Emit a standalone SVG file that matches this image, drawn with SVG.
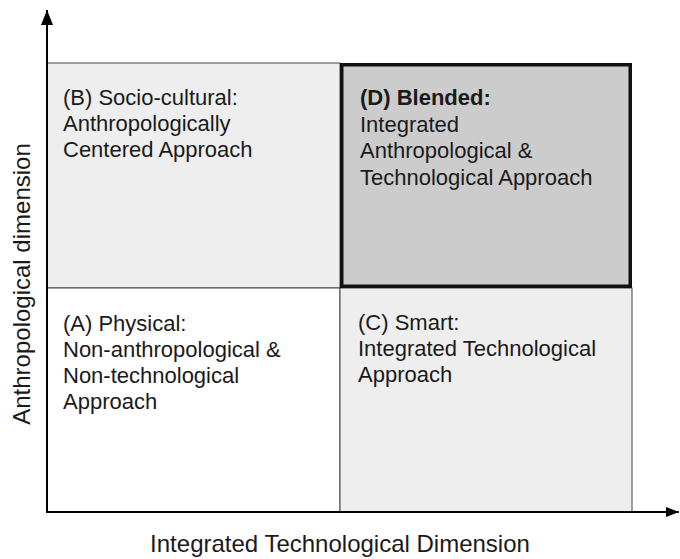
<svg xmlns="http://www.w3.org/2000/svg" width="680" height="559" viewBox="0 0 680 559">
  <style>
    text { font-family: "Liberation Sans", Arial, sans-serif; font-size: 22px; fill: #1a1a1a; }
    .cell { stroke: #444444; stroke-width: 1; }
    .axis { stroke: #000000; stroke-width: 2; fill: none; }
    .axlabel { font-size: 24px; }
    .bold { font-weight: bold; }
  </style>
  <defs>
    <marker id="arrowV" markerUnits="userSpaceOnUse" markerWidth="16" markerHeight="14" refX="15" refY="6" orient="auto">
      <path d="M0,0 L15,6 L0,12 Z" fill="#000"/>
    </marker>
    <marker id="arrowH" markerUnits="userSpaceOnUse" markerWidth="14" markerHeight="12" refX="13" refY="5" orient="auto">
      <path d="M0,0 L13,5 L0,10 Z" fill="#000"/>
    </marker>
  </defs>
  <rect width="680" height="559" fill="#ffffff"/>

  <g id="nodeB">
    <rect class="cell" x="47" y="63" width="293" height="225" fill="#eeeeee"/>
    <text x="63" y="105">(B) Socio-cultural:</text>
    <text x="63" y="131">Anthropologically</text>
    <text x="63" y="157">Centered Approach</text>
  </g>
  <g id="nodeA">
    <rect class="cell" x="47" y="288" width="293" height="224" fill="#ffffff"/>
    <text x="63" y="331">(A) Physical:</text>
    <text x="63" y="357">Non-anthropological &amp;</text>
    <text x="63" y="383">Non-technological</text>
    <text x="63" y="409">Approach</text>
  </g>
  <g id="nodeC">
    <rect class="cell" x="340" y="288" width="292" height="224" fill="#eeeeee"/>
    <text x="358" y="330">(C) Smart:</text>
    <text x="358" y="356">Integrated Technological</text>
    <text x="358" y="382">Approach</text>
  </g>
  <g id="nodeD">
    <rect x="341.75" y="64.75" width="288.5" height="221.5" fill="#cccccc" stroke="#111111" stroke-width="3.5"/>
    <text class="bold" x="360" y="105">(D) Blended:</text>
    <text x="360" y="131.5">Integrated</text>
    <text x="360" y="158">Anthropological &amp;</text>
    <text x="360" y="184.5">Technological Approach</text>
  </g>

  <g id="connectors">
    <line class="axis" x1="47" y1="513" x2="47" y2="10" marker-end="url(#arrowV)"/>
    <line class="axis" x1="46" y1="512" x2="679" y2="512" marker-end="url(#arrowH)"/>
  </g>

  <g id="labels">
    <text class="axlabel" x="340" y="552" text-anchor="middle">Integrated Technological Dimension</text>
    <text class="axlabel" x="0" y="0" text-anchor="middle" transform="translate(30,284) rotate(-90)">Anthropological dimension</text>
  </g>
</svg>
